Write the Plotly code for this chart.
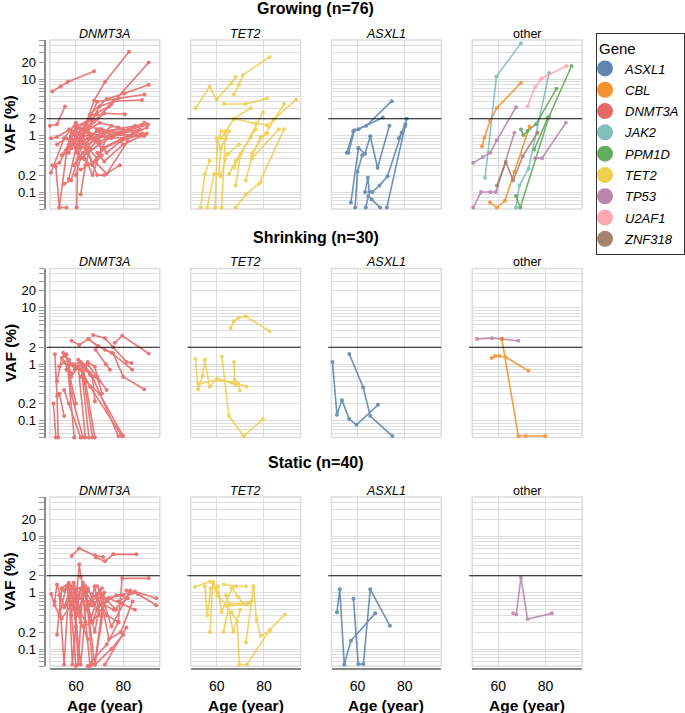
import math
import plotly.graph_objects as go

# ---------------- data ----------------
genes = ["ASXL1", "CBL", "DNMT3A", "JAK2", "PPM1D", "TET2", "TP53", "U2AF1", "ZNF318"]
gene_colors = ["#4c78a8", "#f58518", "#e45756", "#72b7b2", "#54a24b",
               "#eeca3b", "#b279a2", "#ff9da6", "#9d755d"]

row_titles = ["Growing (n=76)", "Shrinking (n=30)", "Static (n=40)"]
col_titles = ["DNMT3A", "TET2", "ASXL1", "other"]

y_tick_vals = [0.1, 0.2, 1, 2, 10, 20]
y_tick_text = ["0.1", "0.2", "1", "2", "10", "20"]
y_minor_vals = [0.05, 0.06, 0.07, 0.08, 0.09, 0.3, 0.4, 0.5, 0.6, 0.7, 0.8, 0.9,
                3, 4, 5, 6, 7, 8, 9, 30, 40, 50]
x_tick_vals = [60, 80]
threshold_vaf = 2
x_range = [49, 95.5]
y_range = [0.05, 50]

# each trajectory: (ages, VAF %)
growing_dnmt3a = [
    ([50, 53.5, 56.5, 67.7], [6.1, 7.5, 9.0, 14]),
    ([49, 52, 55.4], [1.5, 1.6, 3.3]),
    ([62, 67.7, 72.3, 82.5], [0.9, 4.2, 9.0, 31]),
    ([64, 75, 90.8], [1.3, 3.6, 20]),
    ([66, 73, 80.5, 90.8], [2.4, 4.5, 5.6, 8.0]),
    ([63, 69, 78, 89], [1.1, 4.0, 4.6, 5.4]),
    ([62, 70, 76, 88], [0.8, 3.3, 4.1, 4.3]),
    ([64, 72, 80.7], [1.2, 2.5, 2.4]),
    ([60, 66, 74], [0.5, 2.2, 3.3]),
    ([59, 64, 69], [0.8, 1.6, 2.4]),
    ([49.5, 52, 60, 67], [0.9, 0.95, 1.5, 1.9]),
    ([49.4, 55, 60], [0.22, 0.9, 1.7]),
    ([50, 53, 56.5, 65], [0.3, 0.33, 0.6, 1.3]),
    ([51.5, 53, 56], [0.28, 0.053, 0.053]),
    ([53, 56, 58, 62], [0.053, 0.5, 1.2, 1.1]),
    ([60.3, 61, 70], [0.053, 0.9, 1.2]),
    ([52, 56, 60, 72, 80], [0.7, 0.9, 0.6, 1.2, 1.3]),
    ([57, 62, 68, 78, 88], [0.5, 1.3, 0.9, 1.1, 1.5]),
    ([58, 65, 70, 85], [1.0, 1.2, 0.8, 1.4]),
    ([60, 66, 71, 86], [1.6, 1.0, 0.6, 1.2]),
    ([61, 68, 74, 89], [0.4, 0.9, 1.0, 1.7]),
    ([63, 67, 72, 90], [0.9, 0.33, 0.6, 1.4]),
    ([62, 68, 73, 82], [0.25, 0.35, 0.21, 0.8]),
    ([64, 69, 72, 78.6], [0.6, 0.2, 0.2, 0.3]),
    ([59, 63, 67, 71], [0.3, 0.5, 0.2, 0.6]),
    ([57, 60, 65], [0.17, 0.6, 1.3]),
    ([55, 58, 63], [0.14, 0.16, 0.8]),
    ([58, 61, 66, 75, 89], [0.6, 1.4, 1.1, 0.9, 1.0]),
    ([65, 70, 76, 87], [0.5, 0.7, 1.0, 1.3]),
    ([66, 72, 80, 90.5], [0.6, 1.1, 1.2, 1.6]),
    ([60, 64, 69, 84], [1.2, 0.7, 1.3, 1.0]),
    ([67, 73, 79, 88], [0.9, 0.5, 0.8, 1.1]),
    ([61, 65, 72, 85], [0.7, 1.5, 1.2, 1.5]),
    ([56, 59, 62, 70], [0.55, 0.8, 0.4, 0.7]),
    ([62, 64, 66], [0.09, 0.3, 0.6]),
    ([63, 65, 69, 73], [0.4, 0.6, 0.4, 0.9]),
    ([58, 62, 74], [0.9, 0.6, 1.2]),
    ([68, 71, 76, 90], [0.8, 1.3, 1.0, 1.1]),
    ([54, 57, 60, 64], [0.45, 0.7, 1.3, 1.7]),
    ([65, 68, 75, 84], [1.2, 0.8, 1.5, 1.2]),
    ([59, 61, 65, 70], [1.1, 0.7, 0.9, 1.3]),
    ([69, 72, 80, 88], [0.5, 0.35, 0.7, 1.0]),
    ([60, 62, 67, 71], [0.2, 0.4, 0.3, 0.45]),
    ([57, 63, 70, 78], [1.3, 1.1, 1.7, 1.4]),
]

growing_tet2 = [
    ([51.1, 57, 60, 66.2, 68], [3.1, 7.4, 4.4, 8.6, 11]),
    ([67.3, 69.4, 71.1, 82.5], [5.4, 8.0, 12, 25]),
    ([63.1, 72.3, 81.4], [3.65, 3.65, 4.6]),
    ([81.4, 84.2, 93.7], [1.5, 1.95, 4.4]),
    ([75, 80.7, 88.5], [0.5, 1.1, 3.65]),
    ([62, 67.3, 74.4], [0.9, 2.0, 3.1]),
    ([67.3, 79.6], [0.27, 2.6]),
    ([67.3, 76.5, 81.4], [2.0, 1.65, 1.55]),
    ([77.9, 88.5], [0.14, 1.3]),
    ([75, 86.3], [0.4, 1.3]),
    ([53.2, 55, 57], [0.053, 0.21, 0.36]),
    ([56, 58.9, 61, 61.7, 65.2], [0.053, 0.21, 0.21, 0.6, 1.2]),
    ([59.3, 60.3, 62.1], [0.053, 0.8, 1.2]),
    ([62.1, 63.8], [0.053, 1.2]),
    ([68, 72.3, 78.6], [0.053, 0.09, 0.15]),
    ([68, 70.1, 74.4], [0.13, 0.47, 0.95]),
    ([72.3, 75, 78.6, 81.4], [0.16, 0.45, 0.95, 1.1]),
    ([65.2, 68, 76.5], [0.21, 0.36, 1.3]),
    ([61.7, 64.5, 69.4], [0.19, 0.47, 0.7]),
    ([60, 61.5, 64], [0.9, 0.6, 0.9]),
]

growing_asxl1 = [
    ([56.2, 58.7, 63.7, 74.5], [0.5, 1.25, 1.5, 4.1]),
    ([55.5, 58.2, 60.4, 70.7], [0.5, 1.2, 1.3, 2.1]),
    ([60.4, 63.2, 65.4, 68.5, 73.5], [0.6, 0.48, 0.98, 0.27, 1.5]),
    ([57.2, 60.4], [0.065, 0.6]),
    ([59, 60, 62], [0.053, 0.23, 0.45]),
    ([63.2, 64.4, 65, 66.3, 69.3, 72.7, 78.7], [0.1, 0.18, 0.1, 0.1, 0.13, 0.19, 1.13]),
    ([63.5, 64.6, 66, 69.6], [0.053, 0.085, 0.074, 0.053]),
    ([72.4, 80.1], [0.053, 1.45]),
    ([77.5, 80.3, 80.8], [0.9, 1.6, 2.0]),
]

growing_other = {
    "CBL": [
        ([53.1, 54.1, 56.5, 59.4, 69.6], [0.65, 0.92, 1.82, 3.1, 8.7]),
        ([56.5, 59.4, 62.8, 66.8, 73.2], [0.065, 0.053, 0.07, 0.23, 1.45]),
    ],
    "JAK2": [
        ([54.4, 59.2, 69.6], [0.18, 11.2, 44]),
        ([67.5, 68.9, 72.8, 81.5], [0.053, 0.13, 0.26, 13]),
    ],
    "PPM1D": [
        ([69.6, 70.6, 72.4, 75.9, 84.6], [1.29, 1.03, 1.21, 1.6, 6.8]),
        ([67.5, 69.3, 81.5, 91], [0.085, 0.053, 2.2, 17.3]),
        ([75.2, 81], [0.57, 2.1]),
    ],
    "TP53": [
        ([49.4, 53.4, 56.6, 59.3, 67.5], [0.33, 0.42, 0.5, 0.82, 3.2]),
        ([49.4, 52.7, 56.6, 59, 66.8], [0.053, 0.1, 0.1, 0.1, 1.13]),
        ([75.6, 78.5, 88.6], [0.4, 0.4, 1.7]),
    ],
    "U2AF1": [
        ([72.4, 75.6, 78.3, 88.9], [3.35, 7.3, 10.4, 17.3]),
    ],
    "ZNF318": [
        ([59.4, 63.2, 66.3, 70.3, 76.6], [0.13, 0.34, 0.16, 0.43, 1.13]),
    ],
}

shrinking_dnmt3a = [
    ([58.2, 61.4, 65.2, 69.4], [2.6, 2.2, 2.8, 2.1]),
    ([67.3, 72.3, 75.8, 81.4, 83.5], [3.3, 2.9, 2.0, 1.1, 1.05]),
    ([76.5, 79.6, 90.8], [2.4, 3.2, 1.55]),
    ([65.5, 69.2, 75, 83.8], [2.8, 2.1, 1.6, 0.8]),
    ([72.3, 75.8, 80, 88.9], [1.8, 1.55, 0.6, 0.36]),
    ([68.3, 72.7, 74.4], [1.8, 1.0, 0.8]),
    ([51.1, 52.0, 52.5], [1.5, 0.27, 0.05]),
    ([50.5, 51.5], [0.2, 0.05]),
    ([54.6, 56, 59.3], [1.6, 1.5, 0.05]),
    ([55, 57, 58, 63], [1.4, 1.2, 0.3, 0.05]),
    ([53, 55, 58], [0.9, 1.1, 0.7]),
    ([52, 54, 56.5, 60], [0.5, 1.3, 0.9, 0.2]),
    ([56, 58, 61, 64], [0.8, 1.0, 0.9, 0.05]),
    ([57, 59.5, 62, 65.5], [1.2, 0.8, 1.1, 0.05]),
    ([58, 61, 63, 67], [0.6, 0.9, 0.7, 0.05]),
    ([59, 62, 64, 68], [1.0, 1.1, 0.5, 0.05]),
    ([60, 63, 66, 79.5], [0.9, 0.7, 0.4, 0.053]),
    ([61, 64, 67, 78], [1.2, 0.8, 0.6, 0.053]),
    ([62, 65, 69, 73], [0.8, 1.0, 0.6, 0.35]),
    ([63, 66, 70], [1.0, 0.7, 0.5]),
    ([64, 67, 68], [0.9, 0.6, 0.22]),
    ([53, 55], [0.3, 0.12]),
    ([55, 57, 62], [0.35, 0.2, 0.05]),
    ([65, 68, 71], [1.1, 0.9, 0.3]),
    ([66, 69], [0.65, 0.6]),
    ([62, 70, 80], [0.6, 0.3, 0.053]),
]

shrinking_tet2 = [
    ([65.9, 67.3, 69.2, 72.3, 82.4], [4.4, 5.8, 6.7, 7.1, 3.85]),
    ([51, 52.1, 54, 55], [1.24, 0.36, 0.62, 1.2]),
    ([54.9, 57, 60.1, 69, 72.6], [1.2, 0.4, 0.55, 0.45, 0.4]),
    ([62.2, 65.2, 71.4, 79.6], [1.35, 0.12, 0.053, 0.106]),
    ([67.3, 67.6, 69.2, 69.8], [1.1, 0.53, 0.45, 0.34]),
    ([52.7, 60, 66.2, 68], [0.45, 0.53, 0.47, 0.43]),
]

shrinking_asxl1 = [
    ([49.4, 51.3, 53.4, 56.5, 59.6, 68.7], [1.1, 0.127, 0.23, 0.106, 0.084, 0.19]),
    ([56.5, 62.4, 65.4, 74.8], [1.52, 0.39, 0.12, 0.053]),
]

shrinking_other = {
    "TP53": [
        ([51, 57.3, 61.5, 68.5], [2.8, 2.9, 2.8, 2.6]),
    ],
    "CBL": [
        ([57.2, 58.6, 60.4, 63.2, 72.7], [1.29, 1.4, 1.4, 1.33, 0.77]),
        ([61.5, 68.5, 71.7, 79.9], [2.8, 0.053, 0.053, 0.053]),
    ],
}

static_dnmt3a = [
    ([58.2, 61.4, 68, 71.5], [4.5, 6.1, 4.6, 4.3]),
    ([68.5, 72.3, 75.8, 85.6], [4.2, 3.6, 4.8, 4.8]),
    ([60.5, 61.4, 62.1, 64], [1.2, 3.2, 1.9, 0.9]),
    ([77.9, 79.6, 90.8], [0.3, 1.8, 1.8]),
    ([81.4, 86.3, 94], [1.1, 0.95, 0.6]),
    ([78, 85, 94], [0.7, 1.05, 0.8]),
    ([49.5, 51, 53, 56], [0.95, 0.6, 0.4, 1.3]),
    ([51, 52, 55, 58, 60], [0.7, 1.4, 0.55, 1.3, 0.25]),
    ([52, 54, 57, 60], [0.18, 1.2, 1.5, 0.05]),
    ([53, 55, 57, 58], [0.9, 0.053, 1.2, 0.7]),
    ([55, 57, 58.5, 61], [1.1, 1.4, 0.053, 0.9]),
    ([56, 59, 61, 63], [0.6, 1.3, 0.053, 1.5]),
    ([57, 59, 62, 65, 69], [1.0, 0.8, 0.053, 1.2, 0.5]),
    ([58, 60, 63, 66], [0.4, 1.1, 0.9, 0.05]),
    ([59, 61, 64, 68, 72], [1.5, 0.4, 1.3, 0.053, 1.0]),
    ([60, 63, 65, 67], [0.8, 1.4, 0.5, 0.053]),
    ([61, 64, 67, 71], [0.5, 1.0, 0.7, 1.2]),
    ([62, 66, 68, 70], [1.2, 0.6, 1.3, 0.4]),
    ([63, 67, 71, 77], [0.7, 0.3, 0.9, 0.5]),
    ([64, 68, 70, 74], [0.9, 0.2, 0.6, 0.8]),
    ([65, 69, 73, 78], [1.1, 0.8, 0.4, 0.3]),
    ([66, 70, 72, 80], [0.3, 1.1, 0.8, 0.9]),
    ([67, 71, 75, 83], [0.6, 0.9, 0.25, 1.1]),
    ([68, 72, 76, 82], [0.053, 0.6, 0.5, 0.8]),
    ([70, 74, 79, 84], [1.0, 0.15, 0.2, 0.7]),
    ([72.3, 81.4], [0.053, 0.24]),
    ([68, 75, 80], [0.053, 0.1, 0.18]),
    ([65, 73, 78], [0.05, 0.12, 0.3]),
    ([63, 67, 72], [0.25, 0.3, 0.6]),
    ([54, 58, 62, 66], [0.35, 0.6, 0.8, 0.4]),
    ([57, 60, 64], [0.9, 0.7, 0.3]),
    ([61, 63, 65, 69], [0.9, 1.3, 0.7, 0.95]),
    ([69, 73, 77, 84], [1.3, 0.7, 0.9, 1.0]),
    ([74, 79, 85], [0.8, 0.65, 0.5]),
    ([56, 58, 60, 62], [1.2, 0.9, 1.1, 0.4]),
    ([59, 62, 65], [0.65, 0.3, 0.15]),
]

static_tet2 = [
    ([50.8, 57.2, 58.6, 60.7, 64.2, 72.7], [1.27, 1.58, 1.55, 0.88, 0.58, 0.62]),
    ([55, 56, 57.5], [1.3, 0.4, 1.2]),
    ([57.2, 58.3, 60.3], [0.2, 1.5, 0.88]),
    ([63.1, 68.2, 72.4], [1.4, 1.3, 1.3]),
    ([60.5, 62, 66.5], [1.3, 0.45, 1.2]),
    ([66.5, 69, 71, 74.5], [1.2, 0.85, 0.65, 0.7]),
    ([69.6, 72.7, 82.5, 88.9], [0.053, 0.053, 0.22, 0.41]),
    ([75.5, 76.9, 78.6, 82.5], [1.32, 0.33, 0.17, 0.21]),
    ([72.4, 75.5], [0.13, 1.2]),
    ([62.8, 65.4, 73.4], [0.2, 0.64, 0.64]),
    ([66.3, 68.7, 69.6], [0.45, 0.31, 0.053]),
    ([64, 67, 70], [0.9, 0.2, 0.5]),
]

static_asxl1 = [
    ([51.3, 52.5, 54.4, 57.2, 67.5], [0.45, 1.15, 0.053, 0.14, 0.43]),
    ([58.3, 60.3, 62.5, 65.4, 73.7], [0.78, 0.054, 0.054, 1.15, 0.26]),
]

static_other = {
    "TP53": [
        ([66.3, 67.6, 69.6, 72.4, 82.7], [0.43, 0.41, 1.85, 0.34, 0.43]),
    ],
}

panels = [
    [{"DNMT3A": growing_dnmt3a}, {"TET2": growing_tet2}, {"ASXL1": growing_asxl1}, growing_other],
    [{"DNMT3A": shrinking_dnmt3a}, {"TET2": shrinking_tet2}, {"ASXL1": shrinking_asxl1}, shrinking_other],
    [{"DNMT3A": static_dnmt3a}, {"TET2": static_tet2}, {"ASXL1": static_asxl1}, static_other],
]

# ---------------- layout geometry (px) ----------------
W, H = 685, 713
col_left = [50, 191, 332, 473]
panel_w = 110
row_top = [40, 268.5, 497]
panel_h = 169
FONT = "Liberation Sans, Arial, sans-serif"


def px_x(p):
    return p / W


def px_y(p):
    return (H - p) / H


color_of = dict(zip(genes, gene_colors))

fig = go.Figure()
layout_axes = {}
shapes = []
annotations = []

for r in range(3):
    for c in range(4):
        idx = r * 4 + c + 1
        xa = "x" if idx == 1 else f"x{idx}"
        ya = "y" if idx == 1 else f"y{idx}"
        xkey = "xaxis" if idx == 1 else f"xaxis{idx}"
        ykey = "yaxis" if idx == 1 else f"yaxis{idx}"
        x0 = px_x(col_left[c]); x1 = px_x(col_left[c] + panel_w)
        y1 = px_y(row_top[r]); y0 = px_y(row_top[r] + panel_h)

        bottom = (r == 2)
        xaxis = dict(domain=[x0, x1], range=x_range, tickmode="array", tickvals=x_tick_vals,
                     showgrid=True, gridcolor="#dddddd", gridwidth=1, zeroline=False,
                     showticklabels=bottom, ticks="", fixedrange=True)
        if bottom:
            xaxis.update(anchor="free", position=px_y(669), showline=True, linecolor="#888888",
                         linewidth=1.5, tickfont=dict(size=14, family=FONT, color="#000"),
                         ticklabelstandoff=4)
        else:
            xaxis.update(anchor=ya, showline=False)
        first = (c == 0)
        yaxis = dict(domain=[y0, y1], type="log",
                     range=[math.log10(y_range[0]), math.log10(y_range[1])],
                     tickmode="array", tickvals=y_tick_vals, ticktext=y_tick_text,
                     showgrid=True, gridcolor="#dddddd", gridwidth=1, zeroline=False,
                     minor=dict(tickmode="array", tickvals=y_minor_vals, showgrid=True,
                                gridcolor="#dddddd", gridwidth=1,
                                ticks="outside" if first else "", ticklen=6,
                                tickcolor="#999999"),
                     showticklabels=first, fixedrange=True)
        if first:
            yaxis.update(anchor="free", position=px_x(45.5), showline=True, linecolor="#888888",
                         linewidth=1.5, ticks="outside", ticklen=6, tickcolor="#999999",
                         tickfont=dict(size=13, family=FONT, color="#000"))
        else:
            yaxis.update(anchor=xa, showline=False, ticks="")
        layout_axes[xkey] = xaxis
        layout_axes[ykey] = yaxis

        # panel frame
        shapes.append(dict(type="rect", xref=f"{xa} domain", yref=f"{ya} domain",
                           x0=0, x1=1, y0=0, y1=1, line=dict(color="#dddddd", width=1.5),
                           layer="below"))
        # threshold line
        shapes.append(dict(type="line", xref=f"{xa} domain", yref=ya, x0=-0.03, x1=1.0,
                           y0=threshold_vaf, y1=threshold_vaf,
                           line=dict(color="#111111", width=1.2), layer="above"))

        # data
        for gene, trajs in panels[r][c].items():
            xs, ys = [], []
            for ages, vafs in trajs:
                xs.extend(ages + [None])
                ys.extend(vafs + [None])
            fig.add_trace(go.Scatter(
                x=xs, y=ys, mode="lines+markers", xaxis=xa, yaxis=ya,
                line=dict(color=color_of[gene], width=1.6),
                marker=dict(color=color_of[gene], size=4),
                opacity=0.8, showlegend=False, connectgaps=False,
                cliponaxis=False, hoverinfo="skip"))

        # facet title
        title = col_titles[c]
        annotations.append(dict(
            text=title if title == "other" else f"<i>{title}</i>",
            x=px_x(col_left[c] + panel_w / 2), y=px_y(row_top[r] - 6),
            xref="paper", yref="paper", showarrow=False, xanchor="center", yanchor="middle",
            font=dict(size=12.5, family=FONT, color="#000")))

        if bottom:
            annotations.append(dict(
                text="<b>Age (year)</b>", x=px_x(col_left[c] + panel_w / 2), y=px_y(705),
                xref="paper", yref="paper", showarrow=False, xanchor="center", yanchor="middle",
                font=dict(size=15.5, family=FONT, color="#000")))

    # row title
    annotations.append(dict(
        text=f"<b>{row_titles[r]}</b>", x=px_x(316), y=px_y([8, 237, 463][r]),
        xref="paper", yref="paper", showarrow=False, xanchor="center", yanchor="middle",
        font=dict(size=16, family=FONT, color="#000")))
    annotations.append(dict(
        text="<b>VAF (%)</b>", x=px_x(10), y=px_y(row_top[r] + panel_h / 2),
        xref="paper", yref="paper", showarrow=False, xanchor="center", yanchor="middle",
        textangle=-90, font=dict(size=15.5, family=FONT, color="#000")))

# legend entries
for g, col in zip(genes, gene_colors):
    fig.add_trace(go.Scatter(x=[None], y=[None], mode="markers", name=g,
                             legendgroup=g,
                             marker=dict(color=col, size=16, opacity=0.9),
                             showlegend=True, xaxis="x", yaxis="y"))

fig.update_layout(
    width=W, height=H, margin=dict(l=0, r=0, t=0, b=0),
    paper_bgcolor="white", plot_bgcolor="white",
    font=dict(family=FONT, color="#000"),
    shapes=shapes, annotations=annotations,
    legend=dict(x=px_x(597), y=px_y(33), xanchor="left", yanchor="top",
                bordercolor="#333333", borderwidth=1, bgcolor="white",
                title=dict(text="Gene", font=dict(size=15, family=FONT, color="#000",
                                                 style="normal")),
                font=dict(size=13, family=FONT, color="#000", style="italic"),
                itemsizing="trace", indentation=-12, tracegroupgap=1.4),
    **layout_axes,
)

# the page's default 8px body margin would push the 685x713 figure out of the window
fig.write_html("out.html", config={"displayModeBar": False},
               post_script="document.body.style.margin='0px';")
